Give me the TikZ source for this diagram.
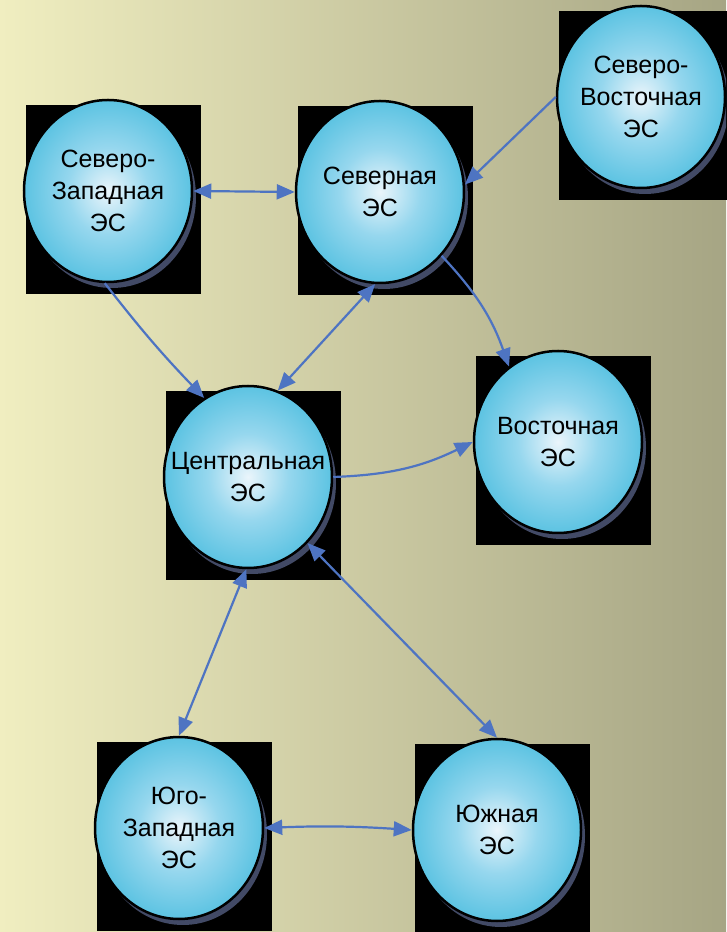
\documentclass[tikz,border=0pt]{standalone}
\usepackage{fontspec}
\setmainfont{Liberation Sans}
\usepackage{tikz}
\usetikzlibrary{arrows.meta, positioning, shapes.geometric, shadows, backgrounds}
\definecolor{fondG}{RGB}{240,238,192}
\definecolor{fondD}{RGB}{166,165,132}
\definecolor{lien}{RGB}{78,116,194}
\definecolor{ombre}{RGB}{66,74,102}
\definecolor{cyanI}{RGB}{234,245,251}
\definecolor{cyanM}{RGB}{150,215,238}
\definecolor{cyanE}{RGB}{92,195,226}
\pgfdeclareradialshading{boule}{\pgfpoint{0bp}{0bp}}{color(0bp)=(cyanI); color(12bp)=(cyanM); color(25bp)=(cyanE); color(50bp)=(cyanE)}

\begin{document}
\begin{tikzpicture}[x=1pt, y=1pt,
	es/.style={ellipse, draw=black, line width=2.5pt, shading=boule,
		minimum width=168pt, minimum height=182pt, inner sep=-25pt, align=center,
		font=\fontsize{25}{32}\selectfont,
		drop shadow={shadow xshift=4pt, shadow yshift=-6pt, fill=ombre, opacity=1}},
	fl/.style={draw=lien, line width=2.2pt, -{Triangle[length=18pt,width=15pt]}},
	fl2/.style={fl, {Triangle[length=18pt,width=15pt]}-{Triangle[length=18pt,width=15pt]}}]
	\useasboundingbox (0,0) rectangle (726,932);
	\clip (0,0) rectangle (726,932);
	% systemes
	\node[es] (nw) at (108,741) {Северо-\\Западная\\ЭС};
	\node[es] (n) at (380,740) {Северная\\ЭС};
	\node[es] (ne) at (641,835) {Северо-\\Восточная\\ЭС};
	\node[es] (c) at (248,455) {Центральная\\ЭС};
	\node[es] (e) at (558,490) {Восточная\\ЭС};
	\node[es] (sw) at (179,104) {Юго-\\Западная\\ЭС};
	\node[es] (s) at (497,102) {Южная\\ЭС};
	% fond et carres noirs
	\begin{scope}[on background layer]
		\fill[left color=fondG, right color=fondD] (0,0) rectangle (726,932);
		\foreach \n in {nw,n,ne,c,e,sw,s}
		\fill[black] ([shift={(5,-9)}]\n.center) ++(-87.5,-94.5) rectangle ++(175,189);
	\end{scope}
	% liaisons
	\draw[fl2] (nw.east) -- (n.west);
	\draw[fl] (ne.west) -- (n.5);
	\draw[fl] (nw.-92) to[bend right=3] (c.119);
	\draw[fl2] (n.-93) -- (c.71);
	\draw[fl] (n.-46) to[bend left=12] (e.123);
	\draw[fl] (c.east) to[bend right=12] (e.west);
	\draw[fl2] (c.-91) -- (sw.north);
	\draw[fl2] (c.-48) -- (s.north);
	\draw[fl2] (sw.east) to[bend left=3] (s.west);
\end{tikzpicture}
\end{document}
